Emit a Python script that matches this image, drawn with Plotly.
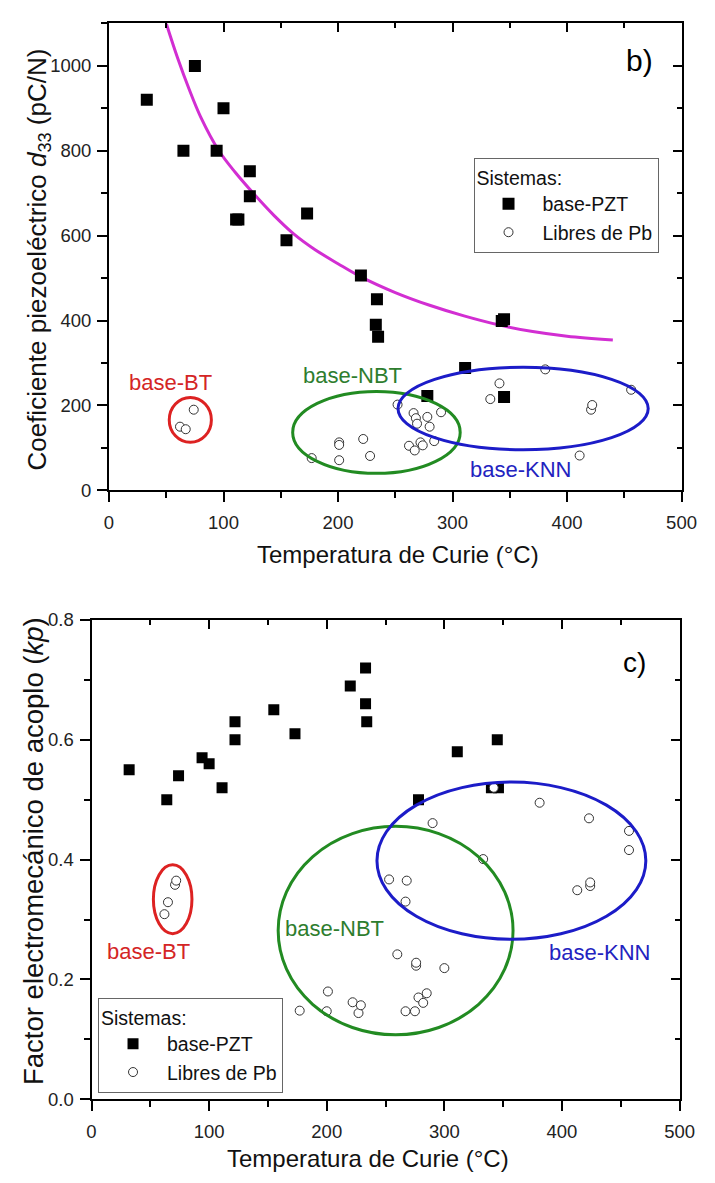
import plotly.graph_objects as go

W, H = 715, 1183
FONT = "Arial, 'Liberation Sans', sans-serif"

# ---------------- data: panel b) d33 vs Curie temperature ----------------
tc_pzt_d33 = [33, 65, 75, 94, 100, 111, 113, 123, 123, 155, 173, 220, 233, 234, 235, 278, 311, 343, 345, 345]
d33_pzt = [920, 800, 1000, 800, 900, 638, 638, 752, 693, 589, 652, 506, 390, 450, 362, 222, 288, 399, 403, 220]

tc_free_d33 = [62, 67, 74,
               177, 201, 201, 201, 222, 228, 252, 262, 266, 267, 268, 269, 272, 274, 278, 280, 284, 290,
               333, 341, 381, 411, 421, 422, 456]
d33_free = [150, 144, 190,
            76, 113, 107, 71, 121, 81, 202, 105, 182, 94, 170, 157, 113, 106, 173, 150, 116, 184,
            215, 252, 285, 82, 190, 201, 237]

curve_tc = [50, 60, 70, 80, 96, 110, 127, 144, 161, 180, 200, 220, 250, 280, 310, 340, 370, 400, 440]
curve_d33 = [1100, 1018, 945, 880, 800, 750, 697, 648, 605, 567, 534, 503, 466, 436, 411, 390, 374, 363, 354]

# ---------------- data: panel c) kp vs Curie temperature ----------------
tc_pzt_kp = [32, 64, 74, 94, 100, 111, 122, 122, 155, 173, 220, 233, 233, 234, 278, 311, 340, 346, 345]
kp_pzt = [0.55, 0.50, 0.54, 0.57, 0.56, 0.52, 0.63, 0.60, 0.65, 0.61, 0.69, 0.72, 0.66, 0.63, 0.50, 0.58, 0.52, 0.52, 0.60]

tc_free_kp = [62, 65, 71, 72,
              177, 200, 201, 222, 227, 229, 253, 260, 267, 267, 268, 275, 276, 276, 278, 282, 285, 290, 300,
              333, 342, 381, 413, 423, 424, 424, 457, 457]
kp_free = [0.309, 0.329, 0.358, 0.365,
           0.148, 0.147, 0.180, 0.162, 0.144, 0.157, 0.367, 0.242, 0.147, 0.330, 0.365, 0.147, 0.223, 0.228, 0.170, 0.161, 0.177, 0.461, 0.219,
           0.401, 0.520, 0.495, 0.349, 0.469, 0.356, 0.362, 0.416, 0.448]

legend_title = "Sistemas:"
series_names = ["base-PZT", "Libres de Pb"]

# group outlines (x0, x1, y0, y1) in data units
groups_b = [("base-BT", 52.6, 89.4, 113, 219, "#dd2222"),
            ("base-NBT", 160.4, 306.7, 40, 233, "#228b22"),
            ("base-KNN", 252.4, 470.9, 95.6, 290, "#1c1cc8")]
groups_c = [("base-BT", 52.6, 85.4, 0.2765, 0.3913, "#dd2222"),
            ("base-NBT", 158.7, 358.4, 0.1077, 0.4557, "#228b22"),
            ("base-KNN", 242.7, 471.3, 0.267, 0.5295, "#1c1cc8")]


def fx(p):
    return p / W


def fy(p):
    return 1 - p / H


fig = go.Figure()

sq = dict(symbol="square", size=12, color="black")
circ = dict(symbol="circle", size=9, color="white", line=dict(color="#333333", width=1))

# panel b
fig.add_trace(go.Scatter(x=curve_tc, y=curve_d33, mode="lines", xaxis="x", yaxis="y",
                         line=dict(color="#d22ed2", width=3, shape="spline", smoothing=1.0),
                         showlegend=False, hoverinfo="skip"))
fig.add_trace(go.Scatter(x=tc_pzt_d33, y=d33_pzt, mode="markers", name=series_names[0],
                         xaxis="x", yaxis="y", marker=sq, legend="legend"))
fig.add_trace(go.Scatter(x=tc_free_d33, y=d33_free, mode="markers", name=series_names[1],
                         xaxis="x", yaxis="y", marker=circ, legend="legend"))
# panel c
fig.add_trace(go.Scatter(x=tc_pzt_kp, y=kp_pzt, mode="markers", name=series_names[0],
                         xaxis="x2", yaxis="y2", marker=dict(sq, size=11), legend="legend2"))
fig.add_trace(go.Scatter(x=tc_free_kp, y=kp_free, mode="markers", name=series_names[1],
                         xaxis="x2", yaxis="y2", marker=circ, legend="legend2"))
# overlay axes for inward mirror ticks
fig.add_trace(go.Scatter(x=[], y=[], xaxis="x3", yaxis="y3", showlegend=False))
fig.add_trace(go.Scatter(x=[], y=[], xaxis="x4", yaxis="y4", showlegend=False))

dom_top_x = [107 / W, 696 / W]
dom_top_y = [fy(488), fy(12.7)]
dom_bot_x = [89 / W, 694 / W]
dom_bot_y = [fy(1108), fy(620)]

tickfont = dict(size=18.5, color="#222222", family=FONT)


def main_axis(rng, dtick, mdtick, domain, anchor, stand):
    return dict(range=rng, dtick=dtick, domain=domain, anchor=anchor,
                showline=True, linecolor="black", linewidth=2, mirror=True,
                ticks="outside", ticklen=10, tickwidth=2, tickcolor="black",
                minor=dict(dtick=mdtick, ticks="outside", ticklen=6, tickwidth=2,
                           tickcolor="black", showgrid=False),
                showgrid=False, zeroline=False, tickfont=tickfont,
                ticklabelstandoff=stand, fixedrange=True)


def mirror_axis(rng, dtick, mdtick, overlay, side, anchor):
    return dict(range=rng, dtick=dtick, overlaying=overlay, side=side, anchor=anchor,
                showline=False, ticks="inside", ticklen=9, tickwidth=2, tickcolor="black",
                minor=dict(dtick=mdtick, ticks="inside", ticklen=5, tickwidth=2,
                           tickcolor="black", showgrid=False),
                showticklabels=False, showgrid=False, zeroline=False, fixedrange=True)


shapes = []
annotations = []
for name, x0, x1, y0, y1, col in groups_b:
    shapes.append(dict(type="circle", xref="x", yref="y", x0=x0, x1=x1, y0=y0, y1=y1,
                       line=dict(color=col, width=3)))
for name, x0, x1, y0, y1, col in groups_c:
    shapes.append(dict(type="circle", xref="x2", yref="y2", x0=x0, x1=x1, y0=y0, y1=y1,
                       line=dict(color=col, width=3)))

label_pos_b = [(170, 378, "#d42525"), (357, 371, "#2e7d2e"), (530, 467, "#2323c0")]
label_pos_c = [(148, 958, "#d42525"), (339, 934, "#2e7d2e"), (612, 959, "#2323c0")]
for (name, *_), (px, py, col) in zip(groups_b, label_pos_b):
    annotations.append(dict(text=name, x=fx(px), y=fy(py), xref="paper", yref="paper",
                            showarrow=False, xanchor="center", yanchor="middle",
                            font=dict(size=22, color=col, family=FONT)))
for (name, *_), (px, py, col) in zip(groups_c, label_pos_c):
    annotations.append(dict(text=name, x=fx(px), y=fy(py), xref="paper", yref="paper",
                            showarrow=False, xanchor="center", yanchor="middle",
                            font=dict(size=22, color=col, family=FONT)))

annotations += [
    dict(text="b)", x=fx(653), y=fy(50), xref="paper", yref="paper", showarrow=False,
         xanchor="center", yanchor="middle", font=dict(size=30, color="black", family=FONT)),
    dict(text="c)", x=fx(648), y=fy(663), xref="paper", yref="paper", showarrow=False,
         xanchor="center", yanchor="middle", font=dict(size=28, color="black", family=FONT)),
    dict(text="Temperatura de Curie (°C)", x=fx(404), y=fy(553), xref="paper", yref="paper",
         showarrow=False, xanchor="center", yanchor="middle",
         font=dict(size=24, color="#111111", family=FONT)),
    dict(text="Temperatura de Curie (°C)", x=fx(373), y=fy(1168), xref="paper", yref="paper",
         showarrow=False, xanchor="center", yanchor="middle",
         font=dict(size=24, color="#111111", family=FONT)),
    dict(text="Coeficiente piezoeléctrico <i>d</i><sub>33</sub> (pC/N)", x=fx(34), y=fy(253),
         xref="paper", yref="paper", showarrow=False, textangle=-90,
         xanchor="center", yanchor="middle", font=dict(size=26, color="#111111", family=FONT)),
    dict(text="Factor electromecánico de acoplo (<i>kp</i>)", x=fx(30), y=fy(855),
         xref="paper", yref="paper", showarrow=False, textangle=-90,
         xanchor="center", yanchor="middle", font=dict(size=27.5, color="#111111", family=FONT)),
]

leg_common = dict(xanchor="left", yanchor="top", xref="paper", yref="paper",
                  bgcolor="white", bordercolor="#666666", borderwidth=1,
                  font=dict(size=19.5, color="#111111", family=FONT),
                  title=dict(text=legend_title, font=dict(size=19.5, color="#111111", family=FONT)),
                  itemwidth=58, tracegroupgap=0)

fig.update_layout(
    width=W, height=H, margin=dict(l=0, r=0, t=0, b=0),
    paper_bgcolor="white", plot_bgcolor="white",
    font=dict(family=FONT, color="#111111"),
    xaxis=main_axis([0, 500], 100, 50, dom_top_x, "y", 4),
    yaxis=main_axis([0, 1100], 200, 100, dom_top_y, "x", 2),
    xaxis2=main_axis([0, 500], 100, 50, dom_bot_x, "y2", 4),
    yaxis2=dict(main_axis([0, 0.8], 0.2, 0.1, dom_bot_y, "x2", 2), tickformat=".1f"),
    xaxis3=mirror_axis([0, 500], 100, 50, "x", "top", "y3"),
    yaxis3=mirror_axis([0, 1100], 200, 100, "y", "right", "x3"),
    xaxis4=mirror_axis([0, 500], 100, 50, "x2", "top", "y4"),
    yaxis4=mirror_axis([0, 0.8], 0.2, 0.1, "y2", "right", "x4"),
    legend=dict(leg_common, x=fx(482), y=fy(150)),
    legend2=dict(leg_common, x=fx(95.7), y=fy(1005)),
    shapes=shapes, annotations=annotations,
    showlegend=True,
)

fig.write_html("out.html")
